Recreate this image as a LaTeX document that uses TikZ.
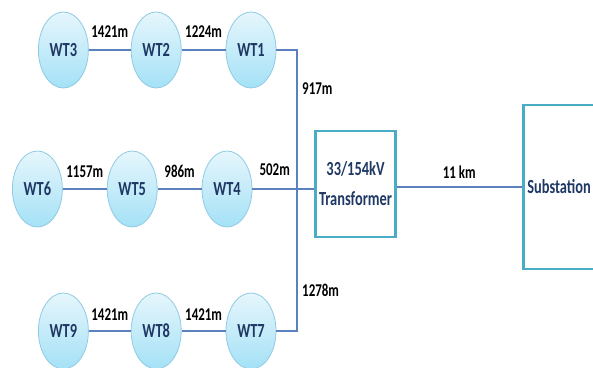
\documentclass[tikz,border=0pt]{standalone}
\usepackage{fontspec}
\setmainfont[FakeStretch=0.72]{Carlito}
\usepackage{xcolor}
\usepackage{tikz}
\usetikzlibrary{positioning, shapes.geometric, calc}

\definecolor{cablecol}{HTML}{5A80BE}
\definecolor{boxcol}{HTML}{4BACC6}
\definecolor{wtedge}{HTML}{8FCBE3}
\definecolor{wttop}{HTML}{E6F6FC}
\definecolor{wtbot}{HTML}{A4E1F6}
\definecolor{wttext}{HTML}{1F3864}

\begin{document}
\begin{tikzpicture}[
    x=1pt, y=-1pt,
    every node/.style={font=\fontsize{20}{30}\selectfont\bfseries},
    turbine/.style={ellipse, draw=wtedge, line width=0.8pt,
                    top color=wttop, bottom color=wtbot,
                    minimum width=50pt, minimum height=76pt,
                    inner sep=0pt, text=wttext},
    unit/.style={draw=boxcol, line width=2.6pt, text=wttext},
    cable/.style={draw=cablecol, line width=1.8pt},
    dist/.style={font=\fontsize{18}{20}\selectfont\bfseries,
                 inner sep=1pt, text=black},
]
\useasboundingbox (0,0) rectangle (593,367);

% Top feeder
\node[turbine] (wt1) at (251,50) {WT1};
\node[turbine, left=44pt of wt1] (wt2) {WT2};
\node[turbine, left=42pt of wt2] (wt3) {WT3};

% Middle feeder
\node[turbine] (wt4) at (227,189) {WT4};
\node[turbine, left=44pt of wt4] (wt5) {WT5};
\node[turbine, left=44pt of wt5] (wt6) {WT6};

% Bottom feeder
\node[turbine] (wt7) at (251,331) {WT7};
\node[turbine, left=44pt of wt7] (wt8) {WT8};
\node[turbine, left=42pt of wt8] (wt9) {WT9};

% Transformer and substation
\node[unit, minimum width=75pt, minimum height=106pt, align=center]
      (trafo) at (355.5,184) {33/154kV\\Transformer};
\node[unit, anchor=west, minimum height=164pt, text width=130pt,
      inner sep=4pt, align=left] (sub) at (522,187) {Substation};

% Collector bus
\coordinate (bus) at (297,0);

% Cables
\draw[cable] (wt3) -- node[dist, above=11pt] (d32) {1421m} (wt2);
\draw[cable] (wt2) -- node[dist, above=11pt] (d21) {1224m} (wt1);
\draw[cable] (wt6) -- node[dist, above=9pt] (d65) {1157m} (wt5);
\draw[cable] (wt5) -- node[dist, above=9pt] (d54) {986m} (wt4);
\draw[cable] (wt9) -- node[dist, above=9pt] (d98) {1421m} (wt8);
\draw[cable] (wt8) -- node[dist, above=9pt] (d87) {1421m} (wt7);
\draw[cable] (wt1) -- (wt1 -| bus) -- (wt7 -| bus) -- (wt7);
\draw[cable] (wt4) -- node[dist, above=11pt, pos=0.5] (d4b) {502m} (wt4 -| bus)
             -- (wt4 -| trafo.west);
\draw[cable] (trafo.east |- sub.west) -- node[dist, above=7pt] (dts) {11 km} (sub.west);

% Bus lengths
\node[dist, anchor=west] (d1b) at ($(bus)+(4,89)$) {917m};
\node[dist, anchor=west] (d7b) at ($(bus)+(4,290)$) {1278m};

\end{tikzpicture}
\end{document}
